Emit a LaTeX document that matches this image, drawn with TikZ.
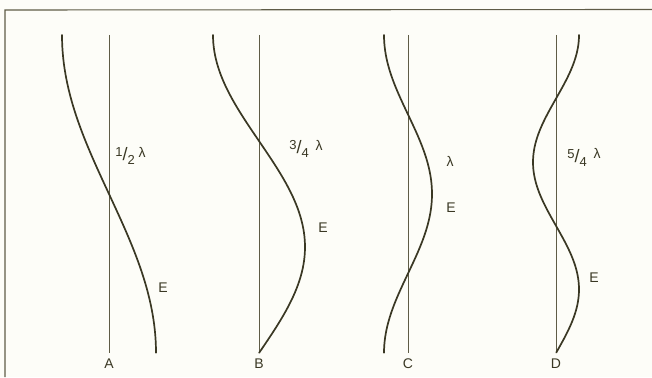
\documentclass[tikz,border=0pt]{standalone}
\usepackage{fontspec}
\setmainfont{Liberation Sans}
\definecolor{ink}{RGB}{58,56,36}
\definecolor{axisink}{RGB}{95,92,70}
\definecolor{paper}{RGB}{253,253,248}
\newcommand{\slfrac}[2]{\raisebox{4pt}{\fontsize{13}{13}\selectfont #1}{\fontsize{18}{18}\selectfont /}\raisebox{-4pt}{\fontsize{13}{13}\selectfont #2}}
\tikzset{
  wave/.style={draw=ink, line width=1.7pt, line cap=round},
  axisline/.style={draw=axisink, line width=1pt},
  frameline/.style={draw=axisink, line width=1.1pt},
  lbl/.style={text=ink, inner sep=0pt, font=\fontsize{14}{16}\selectfont},
}
\begin{document}
\begin{tikzpicture}[x=1pt, y=-1pt]
\fill[paper] (0,0) rectangle (652,377);
\useasboundingbox (0,0) rectangle (652,377);
% frame
\coordinate (fTL) at (5,10);
\coordinate (fTR) at (652,9.5);
\coordinate (fBL) at (5,377);
\draw[frameline] (fBL) -- (fTL) -- (fTR);
% axes
\foreach \n/\x in {A/109, B/259, C/408, D/556} {
  \coordinate (\n top) at (\x,35);
  \coordinate (\n bot) at (\x,353);
  \draw[axisline] (\n top) -- (\n bot);
  \node[lbl] (\n lab) at (\x,364) {\n};
}
% waves
\draw[wave] plot[domain=0:1, samples=80, variable=\t] ({109-47*cos(180*\t)}, {35+318*\t});
\draw[wave] plot[domain=0:1, samples=80, variable=\t] ({259-46*cos(270*\t)}, {35+318*\t});
\draw[wave] plot[domain=0:1, samples=80, variable=\t] ({408-24*cos(360*\t)}, {35+318*\t});
\draw[wave] plot[domain=0:1, samples=100, variable=\t] ({556+23*cos(450*\t)}, {35+318*\t});
% labels
\node[lbl] (fracA) at (125,156) {\slfrac{1}{2}};
\node[lbl] (lamA) at (142,152) {λ};
\node[lbl] (EA) at (163,288) {E};
\node[lbl] (fracB) at (299,149) {\slfrac{3}{4}};
\node[lbl] (lamB) at (319,145) {λ};
\node[lbl] (EB) at (323,228) {E};
\node[lbl] (lamC) at (450,161) {λ};
\node[lbl] (EC) at (451,208) {E};
\node[lbl] (fracD) at (577,158) {\slfrac{5}{4}};
\node[lbl] (lamD) at (597,153) {λ};
\node[lbl] (ED) at (594,278) {E};
\end{tikzpicture}
\end{document}
